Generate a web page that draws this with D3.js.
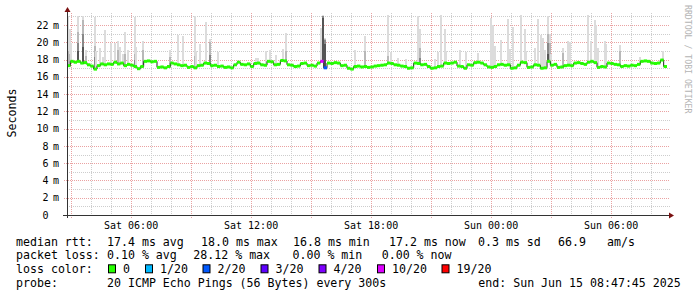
<!DOCTYPE html>
<html>
<head>
<meta charset="utf-8">
<script src="https://cdn.jsdelivr.net/npm/d3@7"></script>
<style>
  html, body { margin: 0; padding: 0; background: #fff; }
  svg { display: block; font-family: "DejaVu Sans Mono", monospace; }
</style>
</head>
<body>
<svg id="chart" width="697" height="297"></svg>
<script>
// ---- data ----
const endTime = new Date(2025, 5, 15, 8, 47, 45)
const spanHours = 30
const stepMinutes = 10   // median steps
const smokeMinutes = 5   // smoke steps (probe every 300s)

// median rtt in ms, one value per 10 minute step
const median = [
  17.3,
  17.8, 17.7, 17.8, 17.6, 17.65,
  17.4, 17.25, 16.9,
  17.3, 17.5, 17.4, 17.5, 17.45,
  17.7, 17.5, 17.6,
  17.3, 17.45, 17.35,
  17.2, 16.95, 17.2,
  17.8, 17.85, 17.75, 17.8,
  17.1, 17.15, 17.05, 17.2,
  17.6, 17.5, 17.4, 17.3,
  17.35, 17.1, 17.2, 17.05,
  17.3, 17.35, 17.6, 17.55,
  17.3, 17.35, 17.2, 17.25,
  17.1, 17.15, 17.05, 17.4,
  17.7, 17.45, 17.4, 17.5,
  17.2, 17.55, 17.6,
  17.4, 17.35, 17.8, 17.75,
  17.4, 17.45, 17.9, 17.85,
  17.4, 17.35, 17.2, 17.25,
  17.55, 17.6, 17.3, 17.35, 17.25, 17.6,
  17.8, 17.05,
  17.6, 17.55, 17.65, 17.6, 17.3, 17.35,
  17.0, 16.9,
  17.2, 17.25, 17.15, 17.2, 17.1, 17.15, 17.25, 17.3, 17.35, 17.4,
  17.6, 17.55, 17.4, 17.35,
  17.25, 17.2, 17.0, 17.05,
  17.6, 17.55, 17.4, 17.45,
  17.2, 17.0, 17.05,
  17.2, 17.25, 17.6, 17.55, 17.6,
  17.7, 17.25, 17.2, 17.0,
  17.4, 17.35, 17.65, 17.7, 17.6,
  17.4, 17.15, 17.1, 17.2,
  17.4, 17.45, 17.35, 17.4, 17.0, 17.05,
  17.35, 17.7, 17.65, 17.1, 17.15,
  17.4, 17.35, 17.0, 17.05,
  17.8, 17.35, 17.45,
  17.1, 17.15, 17.3, 17.35, 17.3,
  17.6, 17.65, 17.55, 17.45,
  17.7, 17.8, 17.65,
  17.1, 17.2, 17.15,
  17.6, 17.55, 17.45, 17.4,
  17.2, 17.3, 17.25, 17.35, 17.3,
  17.45, 17.8, 17.85, 17.8, 17.6, 17.55, 17.6,
  17.95, 17.2
]

// median steps with packet loss: [step, lost pings out of 20]
const lossSteps = [[76, 10], [77, 2]]

// smoke: [5-min step, upper edge of each band in ms, outer (light) to inner (dark)]
const smoke = [
  [0, 23.1, 19.0], [1, 21.5, 18.6], [2, 19.9], [6, 23.1, 21.2, 19.9, 19.0],
  [9, 23.0, 22.6, 21.0, 19.5], [11, 19.1, 18.4], [16, 22.9, 19.6, 18.3], [17, 19.0],
  [19, 19.3], [21, 18.3], [22, 21.4], [26, 19.9], [28, 19.9], [30, 20.2, 19.1],
  [31, 19.5], [33, 18.6], [34, 21.2, 18.6], [36, 19.1], [40, 22.9, 18.7, 18.0],
  [41, 19.5], [45, 20.2, 19.1], [61, 19.1, 18.3], [66, 20.8], [69, 20.7],
  [76, 23.1, 18.4], [77, 19.0], [79, 19.8], [83, 22.3], [85, 20.4, 20.0, 18.5],
  [90, 18.9], [113, 18.2], [114, 18.2], [119, 19.0], [121, 19.1], [125, 18.5],
  [129, 19.2], [131, 21.1, 19.0], [152, 21.7], [153, 23.2, 23.1, 23.0, 22.8],
  [154, 20.5, 20.4, 20.3, 19.8], [172, 19.1], [178, 20.7, 19.0], [192, 23.2, 18.4],
  [194, 18.9], [198, 18.2], [203, 18.1], [210, 23.1], [211, 21.6, 19.3, 18.2],
  [220, 18.1], [222, 18.9], [224, 23.2], [226, 21.6], [227, 19.0], [235, 19.1],
  [239, 18.9], [246, 18.8], [254, 22.8], [255, 22.0], [256, 19.6], [260, 20.3],
  [264, 22.7], [265, 19.2], [267, 21.8], [272, 23.2], [274, 21.6], [275, 19.0],
  [280, 19.3], [282, 22.7], [284, 20.9], [285, 20.5], [286, 19.1],
  [288, 23.1, 21.0, 19.9, 18.6], [289, 21.0, 19.9], [290, 18.6], [297, 19.4, 18.8],
  [300, 20.1], [301, 20.0], [312, 23.2], [314, 20.1], [316, 22.6], [317, 22.0],
  [318, 19.4], [322, 20.1], [323, 19.8], [331, 19.7, 19.0], [343, 18.3], [357, 19.0]
]

const yMajorTicks = [0, 2, 4, 6, 8, 10, 12, 14, 16, 18, 20, 22]
const yMinorTicks = [1, 3, 5, 7, 9, 11, 13, 15, 17, 19, 21, 23]

// loss legend: [label, pings lost threshold, colour]
const lossColors = [
  ['0', 0, '#26ff00'], ['1/20', 1, '#00b8ff'], ['2/20', 2, '#0059ff'],
  ['3/20', 3, '#5e00ff'], ['4/20', 4, '#7e00ff'], ['10/20', 10, '#dd00ff'],
  ['19/20', 19, '#ff0000']
]

const rttLegend = ['17.4 ms avg', '18.0 ms max', '16.8 ms min', '17.2 ms now', '0.3 ms sd', '66.9', 'am/s']
const lossLegend = ['0.10 % avg', '28.12 % max', '0.00 % min', '0.00 % now']
const probeText = '20 ICMP Echo Pings (56 Bytes) every 300s'

// ---- layout ----
const plot = { left: 67, right: 667, top: 13, bottom: 215 }
const legendX = 16
const rttX = [107, 201, 293, 389, 478, 558, 607]
const lossX = [107, 193.3, 292.5, 381.7]
const swatchX = [109, 146, 203.5, 261.5, 319.5, 378, 442.5]
const lines = [245.5, 259.3, 273.3, 287]

const startTime = new Date(endTime.getTime() - spanHours * 3600e3)
const stepTime = (i, m = stepMinutes) => new Date(startTime.getTime() + i * m * 60e3)

const x = d3.scaleTime().domain([startTime, endTime]).range([plot.left, plot.right])
const y = d3.scaleLinear().domain([0, 23.4]).range([plot.bottom, plot.top])

const svg = d3.select('#chart')

// background
svg.append('rect').attr('width', 697).attr('height', 297).attr('fill', '#ffffff')

// ---- grid ----
const grid = svg.append('g').attr('id', 'grid').attr('shape-rendering', 'crispEdges')
const hours = x.ticks(d3.timeHour.every(1))
const minorGrid = '#cdcdcd'
const majorGrid = '#eaa2a2'

grid.selectAll('.hminor')
  .data(yMinorTicks)
  .join('line')
  .attr('x1', plot.left).attr('x2', plot.right + 3)
  .attr('y1', (d) => Math.round(y(d)) + 0.5).attr('y2', (d) => Math.round(y(d)) + 0.5)
  .attr('stroke', minorGrid).attr('stroke-dasharray', '1,1')

grid.selectAll('.vminor')
  .data(hours.filter((d) => d.getHours() % 3 !== 0))
  .join('line')
  .attr('x1', (d) => Math.round(x(d)) + 0.5).attr('x2', (d) => Math.round(x(d)) + 0.5)
  .attr('y1', plot.top).attr('y2', plot.bottom + 2)
  .attr('stroke', minorGrid).attr('stroke-dasharray', '1,1')

grid.selectAll('.hmajor')
  .data(yMajorTicks.filter((d) => d > 0))
  .join('line')
  .attr('x1', plot.left - 3).attr('x2', plot.right + 3)
  .attr('y1', (d) => Math.round(y(d)) + 0.5).attr('y2', (d) => Math.round(y(d)) + 0.5)
  .attr('stroke', majorGrid).attr('stroke-dasharray', '1,1')

grid.selectAll('.vmajor')
  .data(hours.filter((d) => d.getHours() % 3 === 0))
  .join('line')
  .attr('x1', (d) => Math.round(x(d)) + 0.5).attr('x2', (d) => Math.round(x(d)) + 0.5)
  .attr('y1', plot.top).attr('y2', plot.bottom + 3)
  .attr('stroke', majorGrid).attr('stroke-dasharray', '1,1')

// ---- smoke ----
const shades = ['#dcdcdc', '#b8b8b8', '#888888', '#555555']
const smokeLayer = svg.append('g').attr('id', 'smoke').attr('shape-rendering', 'crispEdges')
smoke.forEach((s) => {
  const j = s[0]
  const base = Math.round(y(median[Math.floor(j * smokeMinutes / stepMinutes)])) + 1
  const x0 = Math.round(x(stepTime(j, smokeMinutes)))
  const x1 = Math.max(x0 + 2, Math.round(x(stepTime(j + 1, smokeMinutes))))
  s.slice(1).forEach((top, k) => {
    const t = Math.round(y(top))
    smokeLayer.append('rect')
      .attr('x', x0).attr('width', x1 - x0)
      .attr('y', t).attr('height', Math.max(0, base - t))
      .attr('fill', shades[k])
  })
})

// ---- median line ----
const medianPts = median.map((v, i) => ({ t: stepTime(i), v }))
medianPts.push({ t: endTime, v: median[median.length - 1] })
svg.append('path')
  .datum(medianPts)
  .attr('fill', 'none')
  .attr('stroke', '#202020')
  .attr('stroke-width', 1)
  .attr('d', d3.line().x((d) => x(d.t)).y((d) => y(d.v)).curve(d3.curveStepAfter))

// loss coloured band on the median
const lossMap = new Map(lossSteps)
const colorFor = (n) => {
  let c = lossColors[0][2]
  lossColors.forEach((l) => { if (n >= l[1]) c = l[2] })
  return c
}
svg.append('g').attr('id', 'median-band')
  .selectAll('rect')
  .data(median.map((v, i) => ({ i, v, lost: lossMap.get(i) || 0 })))
  .join('rect')
  .attr('x', (d) => x(stepTime(d.i)))
  .attr('width', (d) => x(stepTime(d.i + 1)) - x(stepTime(d.i)))
  .attr('y', (d) => y(d.v) - 1.5)
  .attr('height', 3)
  .attr('fill', (d) => colorFor(d.lost))

// ---- axes ----
const axisColor = '#333333'
const arrowColor = '#7a1010'
svg.append('line')
  .attr('x1', plot.left - 4).attr('x2', plot.right + 3)
  .attr('y1', plot.bottom + 0.5).attr('y2', plot.bottom + 0.5)
  .attr('stroke', axisColor).attr('shape-rendering', 'crispEdges')
svg.append('line')
  .attr('x1', plot.left + 0.5).attr('x2', plot.left + 0.5)
  .attr('y1', plot.bottom + 3).attr('y2', plot.top - 3)
  .attr('stroke', axisColor).attr('shape-rendering', 'crispEdges')
svg.append('path')
  .attr('d', `M${plot.right + 2},${plot.bottom - 2.5}L${plot.right + 7},${plot.bottom + 0.5}L${plot.right + 2},${plot.bottom + 3.5}Z`)
  .attr('fill', arrowColor)
svg.append('path')
  .attr('d', `M${plot.left - 2.5},${plot.top - 1}L${plot.left + 0.5},${plot.top - 6}L${plot.left + 3.5},${plot.top - 1}Z`)
  .attr('fill', arrowColor)

// y labels
const yLab = svg.append('g').attr('font-size', 10).attr('fill', '#000')
yLab.selectAll('.num')
  .data(yMajorTicks)
  .join('text')
  .attr('x', 48.5).attr('y', (d) => y(d) + 3.6)
  .attr('text-anchor', 'end')
  .text((d) => d)
yLab.selectAll('.unit')
  .data(yMajorTicks.filter((d) => d > 0))
  .join('text')
  .attr('x', 53).attr('y', (d) => y(d) + 3.6)
  .text('m')

// x labels
const fmt = d3.timeFormat('%a %H:%M')
svg.append('g').attr('font-size', 10)
  .selectAll('text')
  .data(hours.filter((d) => d.getHours() % 6 === 0))
  .join('text')
  .attr('x', (d) => x(d)).attr('y', 228.8)
  .attr('text-anchor', 'middle')
  .text((d) => fmt(d))

// vertical title
svg.append('text')
  .attr('transform', 'translate(15.5,113) rotate(-90)')
  .attr('text-anchor', 'middle')
  .attr('font-size', 11.6)
  .text('Seconds')

// watermark
svg.append('text')
  .attr('transform', 'translate(685,5) rotate(90)')
  .attr('font-size', 8.2)
  .attr('fill', '#b4b4b4')
  .text('RRDTOOL / TOBI OETIKER')

// ---- legend ----
const leg = svg.append('g').attr('font-size', 11.6).attr('fill', '#000').style('white-space', 'pre')
leg.append('text').attr('x', legendX).attr('y', lines[0]).text('median rtt:')
rttLegend.forEach((t, i) => leg.append('text').attr('x', rttX[i]).attr('y', lines[0]).text(t))

leg.append('text').attr('x', legendX).attr('y', lines[1]).text('packet loss:')
lossLegend.forEach((t, i) => leg.append('text').attr('x', lossX[i]).attr('y', lines[1]).text(t))

leg.append('text').attr('x', legendX).attr('y', lines[2]).text('loss color:')
lossColors.forEach((l, i) => {
  leg.append('rect')
    .attr('x', swatchX[i] - 0.5).attr('y', lines[2] - 8.5)
    .attr('width', 7).attr('height', 8)
    .attr('fill', l[2]).attr('stroke', '#000').attr('stroke-width', 1)
  leg.append('text').attr('x', swatchX[i] + 14).attr('y', lines[2]).text(l[0])
})

leg.append('text').attr('x', legendX).attr('y', lines[3]).text('probe:')
leg.append('text').attr('x', 107).attr('y', lines[3]).text(probeText)
leg.append('text').attr('x', 478.3).attr('y', lines[3]).text('end: ' + d3.timeFormat('%a %b %d %H:%M:%S %Y')(endTime))
</script>
</body>
</html>
